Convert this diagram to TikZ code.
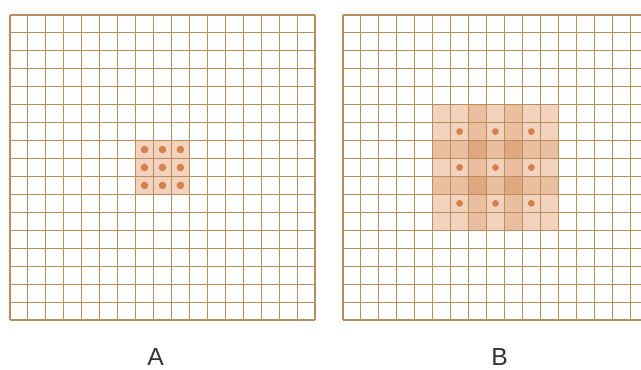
\documentclass[tikz,border=0pt]{standalone}
\usepackage{fontspec}
\setmainfont{Liberation Sans}
\usetikzlibrary{positioning}

\definecolor{gridbrown}{RGB}{185,142,92}
\definecolor{cellpale}{RGB}{243,211,190}
\definecolor{cellmid}{RGB}{234,191,160}
\definecolor{celldeep}{RGB}{224,168,128}
\definecolor{dotorange}{RGB}{214,128,78}

\tikzset{
	gridline/.style={
		draw=gridbrown,
		line width=0.8pt
	},
	dot/.style={
		fill=dotorange
	},
	caption/.style={
		font=\fontsize{18.5}{19}\selectfont,
		anchor=base,
		inner sep=0pt,
		text=black!80
	}
}

\begin{document}
\begin{tikzpicture}[x=0.75pt, y=-0.75pt]
	\useasboundingbox (0,0) rectangle (641,370);
	\clip (0,0) rectangle (641,370);

	% Grid A: one 3x3 patch in the middle
	\begin{scope}[shift={(10,15)}, scale=17.94]
		\fill[cellpale] (7,7) rectangle (10,10);
		\foreach \i in {7,8,9}
			\foreach \j in {7,8,9}
				\fill[dot] (\i+0.5,\j+0.5) circle (0.21);
		\foreach \k in {0,...,17} {
			\draw[gridline] (\k,0) -- (\k,17);
			\draw[gridline] (0,\k) -- (17,\k);
		}
	\end{scope}

	% Grid B: nine spread points, overlapping 3x3 patches
	\begin{scope}[shift={(343,15)}, scale=17.94]
		\fill[cellpale] (5,5) rectangle (12,12);
		\foreach \k in {7,9} {
			\fill[cellmid] (\k,5) rectangle +(1,7);
			\fill[cellmid] (5,\k) rectangle +(7,1);
		}
		\foreach \k in {7,9}
			\foreach \m in {7,9}
				\fill[celldeep] (\k,\m) rectangle +(1,1);
		\foreach \i in {6,8,10}
			\foreach \j in {6,8,10}
				\fill[dot] (\i+0.5,\j+0.5) circle (0.19);
		\foreach \k in {0,...,17} {
			\draw[gridline] (\k,0) -- (\k,17);
			\draw[gridline] (0,\k) -- (17,\k);
		}
	\end{scope}

	% Captions
	\node[caption] (capA) at (155.5,365) {A};
	\node[caption] (capB) at (499.5,365) {B};
\end{tikzpicture}
\end{document}
